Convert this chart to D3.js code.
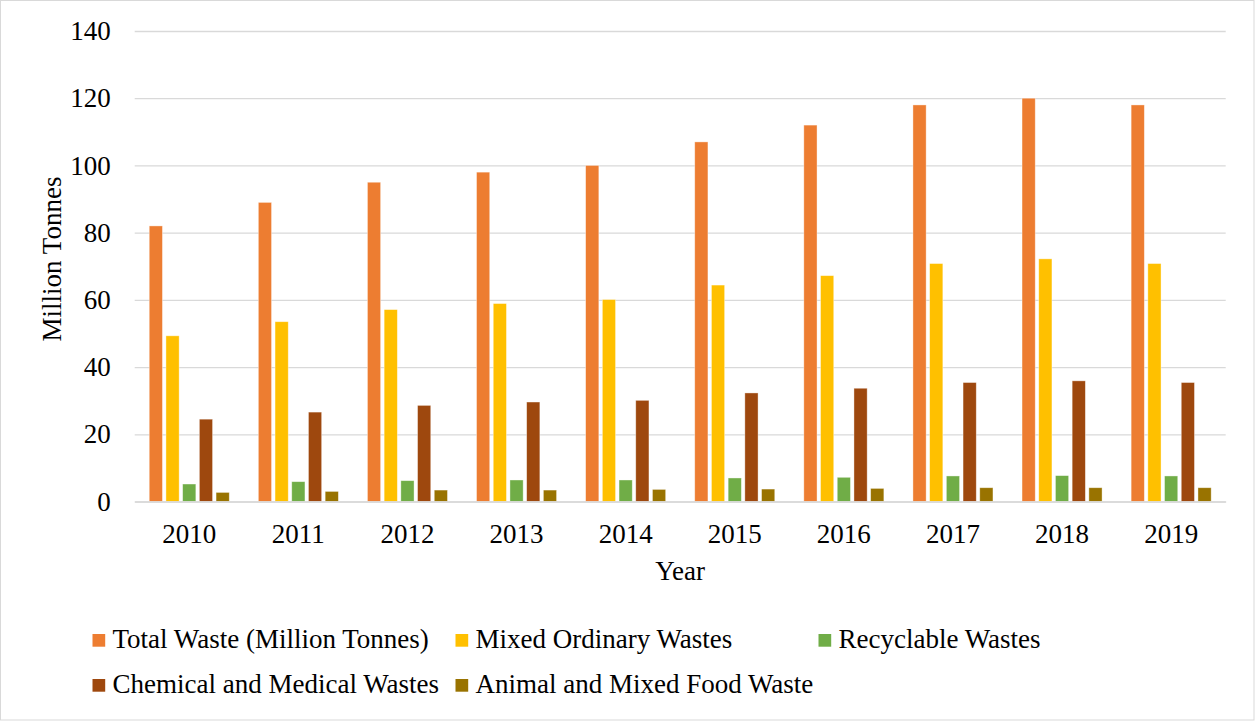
<!DOCTYPE html>
<html><head><meta charset="utf-8">
<script src="https://cdn.jsdelivr.net/npm/d3@7"></script>
<style>body{margin:0;background:#fff;}svg{display:block;}</style>
</head><body>
<svg id="c" width="1255" height="721"></svg>
<script>
const years = ["2010","2011","2012","2013","2014","2015","2016","2017","2018","2019"];
const seriesNames = ["Total Waste (Million Tonnes)","Mixed Ordinary Wastes","Recyclable Wastes","Chemical and Medical Wastes","Animal and Mixed Food Waste"];
const totalWaste = [82, 89, 95, 98, 100, 107, 112, 118, 120, 118];
const mixedOrdinary = [49.3, 53.5, 57.1, 58.9, 60.1, 64.4, 67.2, 70.8, 72.2, 70.8];
const recyclable = [5.2, 5.9, 6.2, 6.4, 6.4, 7.0, 7.2, 7.6, 7.7, 7.6];
const chemicalMedical = [24.5, 26.6, 28.6, 29.6, 30.1, 32.3, 33.7, 35.4, 35.9, 35.4];
const animalFood = [2.7, 3.0, 3.4, 3.4, 3.6, 3.7, 3.9, 4.1, 4.1, 4.1];
const yTicks = [0, 20, 40, 60, 80, 100, 120, 140];
const colors = ["#ED7D31","#FFC000","#70AD47","#9E480E","#997300"];

const seriesValues = [totalWaste, mixedOrdinary, recyclable, chemicalMedical, animalFood];
const svg = d3.select("#c");
const font = "'Liberation Serif','Times New Roman',serif";
const fs = 27;

svg.append("rect").attr("x",0.5).attr("y",0.5).attr("width",1253.5).attr("height",719.5)
  .attr("fill","#fff").attr("stroke","#d9d9d9").attr("stroke-width",1);

const pLeft = 134.7, pRight = 1225.7, pTop = 31, pBottom = 501.5;
const x0 = d3.scaleBand().domain(years).range([pLeft, pRight]).padding(0);
const x1 = d3.scaleBand().domain(d3.range(seriesNames.length)).range([0, x0.bandwidth()])
  .paddingInner(0.21).paddingOuter(0.87);
const y = d3.scaleLinear().domain([0, 140]).range([pBottom, pTop]);

// grid
const grid = svg.append("g").attr("transform",`translate(${pLeft},0)`)
  .call(d3.axisLeft(y).tickValues(yTicks).tickSize(-(pRight-pLeft)).tickFormat(""));
grid.select(".domain").remove();
grid.selectAll("line").attr("stroke","#d9d9d9").attr("stroke-width",1.3);

// y labels
const ya = svg.append("g").attr("transform",`translate(${pLeft},0)`)
  .call(d3.axisLeft(y).tickValues(yTicks).tickSize(0).tickPadding(24));
ya.select(".domain").remove();
ya.selectAll("text").attr("font-family",font).attr("font-size",fs).attr("fill","#000");

// bars
const groups = svg.append("g").selectAll("g").data(years).join("g")
  .attr("transform", d => `translate(${x0(d)},0)`);
groups.selectAll("rect").data((d,i) => seriesValues.map((s,k) => ({k, v: s[i]}))).join("rect")
  .attr("x", d => x1(d.k)).attr("width", x1.bandwidth())
  .attr("y", d => y(d.v)).attr("height", d => y(0) - y(d.v))
  .attr("fill", d => colors[d.k])
  .attr("stroke","#fff").attr("stroke-opacity",0.5).attr("stroke-width",0.75);

// x axis
const xa = svg.append("g").attr("transform",`translate(0,${pBottom})`)
  .call(d3.axisBottom(x0).tickSize(0).tickPadding(22));
xa.select(".domain").attr("stroke","#d9d9d9").attr("stroke-width",1.3);
xa.selectAll("text").attr("font-family",font).attr("font-size",fs).attr("fill","#000");

// axis titles
svg.append("text").attr("x",(pLeft+pRight)/2).attr("y",580).attr("text-anchor","middle")
  .attr("font-family",font).attr("font-size",fs).text("Year");
svg.append("text").attr("transform",`translate(61,259) rotate(-90)`)
  .attr("text-anchor","middle").attr("font-family",font).attr("font-size",fs).text("Million Tonnes");

// legend
const legendPos = [[92.5,648],[455.5,648],[818.5,648],[92.5,693],[455.5,693]];
const lg = svg.append("g").selectAll("g").data(seriesNames).join("g")
  .attr("transform",(d,i)=>`translate(${legendPos[i][0]},${legendPos[i][1]})`);
lg.append("rect").attr("x",0).attr("y",-14).attr("width",12.7).attr("height",12.7).attr("fill",(d,i)=>colors[i]);
lg.append("text").attr("x",20).attr("y",0).attr("font-family",font).attr("font-size",fs).text(d=>d);
</script>
</body></html>
